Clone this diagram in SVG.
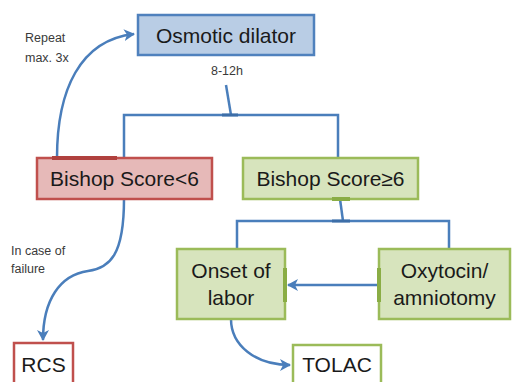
<svg xmlns="http://www.w3.org/2000/svg" width="512" height="382" viewBox="0 0 512 382">
<defs>
<marker id="arr" viewBox="0 0 12 12" refX="10" refY="6" markerWidth="12" markerHeight="12" markerUnits="userSpaceOnUse" orient="auto">
<path d="M0,0 L11,6 L0,12 L3,6 Z" fill="#4a7ebb"/>
</marker>
<style>
.lbl{font-family:"Liberation Sans",Arial,sans-serif;font-size:21px;fill:#1a1a1a;text-anchor:middle}
.sm{font-family:"Liberation Sans",Arial,sans-serif;font-size:12.5px;fill:#3a3a3a}
.blue{fill:#b9cde5;stroke:#4f81bd;stroke-width:2.5}
.red{fill:#e6b9b8;stroke:#c0504d;stroke-width:2.5}
.green{fill:#d7e4bd;stroke:#9bbb59;stroke-width:2.5}
.redw{fill:#ffffff;stroke:#c0504d;stroke-width:2.5}
.greenw{fill:#ffffff;stroke:#9bbb59;stroke-width:2.5}
.con{fill:none;stroke:#4a7ebb;stroke-width:2.5}
</style>
</defs>
<rect width="512" height="382" fill="#ffffff"/>
<g id="connectors">
<path class="con" d="M57,158 C57,90 80,40 134,34" marker-end="url(#arr)"/>
<path class="con" d="M226,85 L231,115"/>
<path class="con" d="M124,158 V115 H338 V158"/>
<path class="con" d="M340,199 L343,221"/>
<path class="con" d="M237,249 V221 H449 V249"/>
<path class="con" d="M379,285 L288,285" marker-end="url(#arr)"/>
<path class="con" d="M231,319 C231,345 255,365 290,365" marker-end="url(#arr)"/>
<path class="con" d="M124,199 C124,255 110,268 88,271 C60,275 43,300 43,340" marker-end="url(#arr)"/>
<path d="M222,115 H238 M332,221 H350" stroke="#3d6ea8" stroke-width="3" fill="none"/>
</g>
<g id="osmotic">
<rect class="blue" x="138" y="15" width="176" height="40"/>
<text class="lbl" x="226" y="43" font-size="22">Osmotic dilator</text>
</g>
<g id="bishop-low">
<rect class="red" x="37" y="158" width="175" height="41"/>
<path d="M52,158 H117" stroke="#b0413e" stroke-width="4"/>
<text class="lbl" x="124.5" y="186">Bishop Score&lt;6</text>
</g>
<g id="bishop-high">
<rect class="green" x="243" y="158" width="175" height="41"/>
<path d="M332,199 H350" stroke="#8aad45" stroke-width="4"/>
<text class="lbl" x="330.5" y="186">Bishop Score≥6</text>
</g>
<g id="onset">
<rect class="green" x="177" y="249" width="108" height="70"/>
<path d="M285,268 V302" stroke="#8aad45" stroke-width="4"/>
<text class="lbl" x="231" y="278">Onset of</text>
<text class="lbl" x="231" y="305">labor</text>
</g>
<g id="oxytocin">
<rect class="green" x="379" y="249" width="131" height="70"/>
<path d="M379,268 V302" stroke="#8aad45" stroke-width="4"/>
<text class="lbl" x="444.5" y="278">Oxytocin/</text>
<text class="lbl" x="444.5" y="305">amniotomy</text>
</g>
<g id="rcs">
<rect class="redw" x="14" y="343" width="59" height="50"/>
<text class="lbl" x="43.5" y="372">RCS</text>
</g>
<g id="tolac">
<rect class="greenw" x="293" y="345" width="88" height="50"/>
<text class="lbl" x="337" y="372">TOLAC</text>
</g>
<g id="labels">
<text class="sm" x="25" y="42">Repeat</text>
<text class="sm" x="25" y="62">max. 3x</text>
<text class="sm" x="227" y="75" text-anchor="middle">8-12h</text>
<text class="sm" x="11" y="255">In case of</text>
<text class="sm" x="11" y="273">failure</text>
</g>
</svg>
